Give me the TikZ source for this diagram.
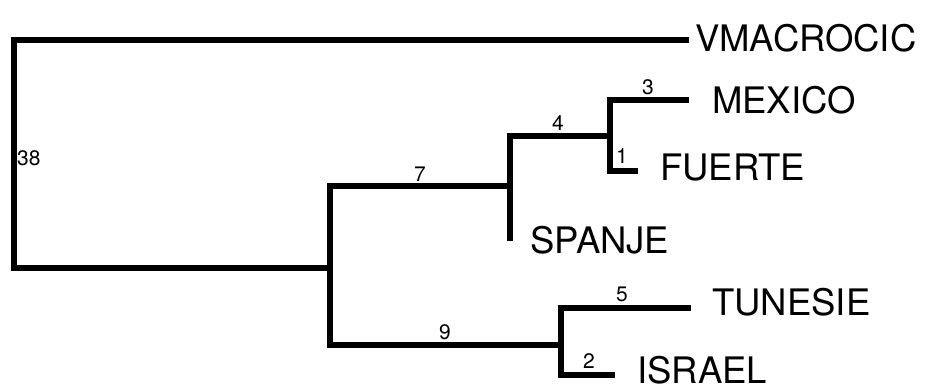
\documentclass[tikz,border=0pt]{standalone}
\usepackage{fontspec}
\setmainfont{TeX Gyre Heros}
\begin{document}
\begin{tikzpicture}[x=1pt,y=-1pt,
  branch/.style={line width=5.5pt,line join=miter,line cap=rect},
  taxon/.style={anchor=west,inner sep=0pt,font=\fontsize{36.5}{40}\selectfont},
  blen/.style={inner sep=0pt,font=\fontsize{21}{23}\selectfont}]
\path[use as bounding box,fill=white] (0,0) rectangle (931,390);
% internal nodes and branch ends
\coordinate (root) at (14,155);
\coordinate (n1) at (330,268);
\coordinate (n2) at (510,186);
\coordinate (n3) at (610,136);
\coordinate (n4) at (561,345);
\coordinate (vmE) at (686,40);
\coordinate (mexE) at (686,100);
\coordinate (fueE) at (635,171);
\coordinate (spaE) at (510,238);
\coordinate (tunE) at (688,308);
\coordinate (isrE) at (612,375);
% branches
\draw[branch] (vmE) -| (root) |- (n1);
\draw[branch] (n2) -| (n1) |- (n4);
\draw[branch] (n3) -| (n2) |- (spaE);
\draw[branch] (mexE) -| (n3) |- (fueE);
\draw[branch] (tunE) -| (n4) |- (isrE);
% taxa
\node[taxon] (vm) at (695,38) {VMACROCIC};
\node[taxon] (mex) at (712,100) {MEXICO};
\node[taxon] (fue) at (660,168) {FUERTE};
\node[taxon] (spa) at (530,240) {SPANJE};
\node[taxon] (tun) at (712,302) {TUNESIE};
\node[taxon] (isr) at (637,370) {ISRAEL};
% branch lengths
\node[blen,anchor=west] (l38) at (17,158) {38};
\node[blen] (l7) at (420,174) {7};
\node[blen] (l4) at (558,123) {4};
\node[blen] (l3) at (648,87) {3};
\node[blen] (l1) at (622,156) {1};
\node[blen] (l9) at (445,332) {9};
\node[blen] (l5) at (622,294) {5};
\node[blen] (l2) at (589,361) {2};
\end{tikzpicture}
\end{document}
